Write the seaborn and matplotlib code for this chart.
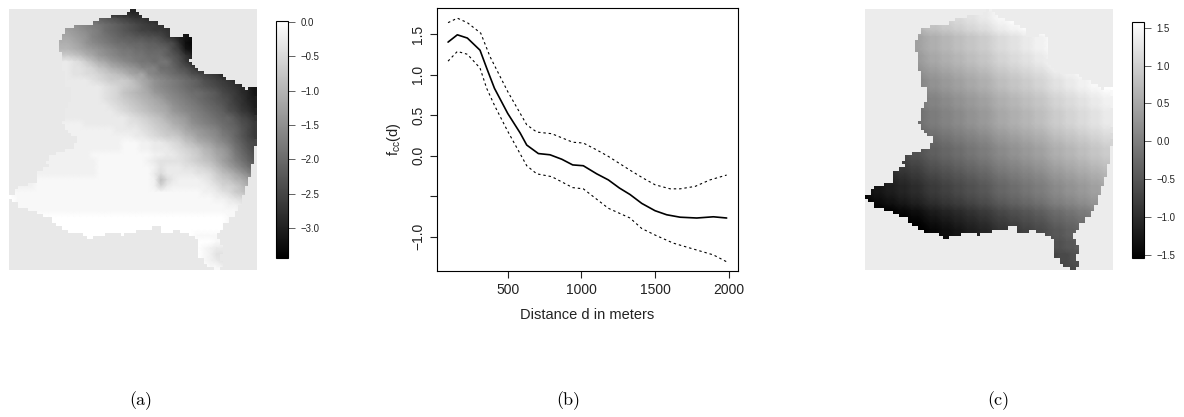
import numpy as np
import matplotlib
matplotlib.use("Agg")
import matplotlib.pyplot as plt
from matplotlib.colors import ListedColormap
import seaborn as sns

W, H = 1184, 417
LEVELS = "0123456789abcdefghijklmnopqrstuvwxyz"

# Region outline: per grid row, the [start, end) column runs inside the region
REGION_RUNS = [
 [(39,41)],[(38,42)],[(33,43)],[(29,45)],[(27,48)],[(21,50)],[(18,52)],[(18,52)],
 [(17,52),(56,58)],[(17,59)],[(16,59)],[(16,59)],[(16,59)],[(16,59)],[(17,59)],[(17,59)],
 [(17,58)],[(17,59)],[(17,60)],[(17,61)],[(18,63)],[(18,69)],[(18,70)],[(18,73)],
 [(18,75)],[(20,76),(77,80)],[(20,80)],[(20,80)],[(20,80)],[(20,80)],[(19,80)],[(19,80)],
 [(18,80)],[(18,80)],[(18,80)],[(18,80)],[(17,80)],[(18,80)],[(18,80)],[(19,80)],
 [(20,80)],[(22,80)],[(22,80)],[(21,80)],[(21,79)],[(18,79)],[(15,79)],[(13,79)],
 [(13,79)],[(12,79)],[(13,78)],[(11,78)],[(9,78)],[(9,78)],[(9,77)],[(9,77)],
 [(6,77)],[(3,76)],[(2,76)],[(2,76)],[(0,75)],[(1,75)],[(3,75)],[(3,74)],
 [(6,74)],[(9,73)],[(11,73)],[(14,71)],[(14,71)],[(15,69)],[(17,46),(49,69)],
 [(19,41),(49,53),(55,68)],[(24,31),(36,37),(58,67)],[(25,27),(60,67)],
 [(61,68)],[(61,68)],[(61,69)],[(61,69)],[(61,69)],[(61,68)],[(63,68)],[(63,69)],
 [(64,69)],[(66,68)],
]

# Panel (a) surface, gray levels
SURFACE_A = [
 "5555555555555555555555555555555555555555",
 "kkkkkkkkkkggfedcba9877665554433333333333",
 "llllllllllkjihgfedcba9887665533333333333",
 "mmmmmmmmmmlkjihfedcba9988775321111111111",
 "nnnnnnnnnnmlkihgfeddccbba864322222222222",
 "oooooooooonmkjihgffeeeddcba6211111111111",
 "pppppppppponmlkjihggffeeeda8322222222222",
 "ssssssssssrqonlkjihhggfffdca753333333333",
 "wwwwwwwwwwvusqonlkjihggfggdb865333333333",
 "wwwwwwwwwwvvutrqonmlkiiiffecb97766554433",
 "wwwwwwwwwwvvuutsrqpnmnjihgfedba987554333",
 "wwwwwwwwwwwwwvutsssrpnmkjihgfedba9876543",
 "wwwwwwwwwwwwwwwvutsrqomkjihgfedcba987653",
 "wwwwwwwwwwwwwwwvutrqponlkjihgffedca98653",
 "wwwwwwwwwwwwwwwvutsrqponmkjihgfedcba8754",
 "wwwwwwwwwwwwwwwwvutsrqponmkjihgfedca9764",
 "wwwwwwwwwwwwwwwwwvutsrqponlkjihgfedba875",
 "wwwwwwwwwwwwwwwwwwwvutsrqonmljihgfeeca97",
 "xxxxxxxxxxxxwwwwwwwvvutsrqonmkjihgfedba8",
 "xxxxxxxxxxxxxxxxxwwwwvutsrqpnmlkjigfeca8",
 "xxxxxxxxxxxxxxxxxxxxwwvutssrpomlkjhgeca8",
 "xxxxxxxxxxxxxxxxxxyyyxxwwvutrqonmkjhfdba",
 "xxxxxxxxxxxxxxxxxxyyyxxwwwvutsrpomljgeca",
 "xxxxxxxxxxxxxyyyyyyyyyyxxwwvutsqpnmkhfdb",
 "xxxxxxxxxxxxxxyyyyyyyyxwvvvvutsrqomkigec",
 "xxxxxxxxxxxxxxyyyyyyyyyxvwwwvvutsqomkige",
 "xxxxxxxxxxxxxxyyyyyyyyywuwwwwwvvusqpnljh",
 "xxxxyyyyyyyyyyyyyyyyyyyxquwxxxxwvtsrpomk",
 "xxxxyyyyyyyyyyyyyyyyyyyxtwxxxxxxwvttsqon",
 "yyyyyyyyyyyyyyyyyyyyyyyyyyyyyyyxxwvusrqo",
 "zyyyyyyyyyyyyyyyyyyyyyyyyyyyyyyyyxxwvusr",
 "zyyyyyyyyyyyyyyyyyyyyyyyyyyyyyyyyyyxxwwv",
 "zyyyyyyyyyyyyyyyyyyyyyyyyyyyyyyyyyyyyxxx",
 "zzzzzzzzzzzzzzzzzzzzzzzzzzzzzzzzzzzyyxxx",
 "zzzzzzzzzzzzzzzzzzzzzzzzzzzzzzzzzzzyyxxx",
 "zzzzzzzzzzzzzzzzzzzzzzzzzzzzzzzzzzzyyxxx",
 "zzzzzzzzzzzzzzzzzzzzzzzzzzzzzzyyyyyyyyyy",
 "zzzzzzzzzzzzzzzzzzzzzzzzzzzzzzzzzyyyzzzz",
 "zzzzzzzzzzzzzzzzzzzzzzzzzzzzzzzyxwwzzzzz",
 "zzzzzzzzzzzzzzzzzzzzzzzzzzzzzzzyxvvyzzzz",
 "zzzzzzzzzzzzzzzzzzzzzzzzzzzzzzzyxwvyzzzz",
 "zzzzzzzzzzzzzzzzzzzzzzzzzzzzzzzzyyxzzzzz",
]

# Panel (c) surface, gray levels
SURFACE_C = [
 "mnnooppqqrssttuuvvwwxyyzzzzzzzzzzzzzzzzz",
 "mnnooppqqrssttuuvvwwxyyzzzzzzzzzzzzzzzzz",
 "lmmnnooppqrrssttuuvvwxxyyzzzzzzzzzzzzzzz",
 "kllmmnnoopqqrrssttuuvwwxxyyzzzzzzzzzzzzz",
 "ijjkkllmmnooppqqrrsstuuvvwwxxyzzzzzzzzzz",
 "ijjkkllmmnooppqqrrsstuuvvwwxxyzzzzzzzzzz",
 "ijjkkllmmnooppqqrrsstuuvvwwxxyzzzzzzzzzz",
 "hiijjkkllmnnooppqqrrsttuuvvwwxyyzzzzzzzz",
 "hiijjkkllmnnooppqqrrsttuuvvwwxyyzzzzzzzz",
 "ghhiijjkklmmnnooppqqrssttuuvvwxxyyzzzzzz",
 "fgghhiijjkllmmnnooppqrrssttuuvwwxxyyzzzz",
 "effgghhiijkkllmmnnoopqqrrssttuvvwwxxyyzz",
 "effgghhiijkkllmmnnoopqqrrssttuvvwwxxyyzz",
 "deeffgghhijjkkllmmnnoppqqrrsstuuvvwwxxyy",
 "cddeeffgghiijjkkllmmnooppqqrrsttuuvvwwxx",
 "cddeeffgghiijjkkllmmnooppqqrrsttuuvvwwxx",
 "bccddeeffghhiijjkkllmnnooppqqrssttuuvvww",
 "bccddeeffghhiijjkkllmnnooppqqrssttuuvvww",
 "bccddeeffghhiijjkkllmnnooppqqrssttuuvvww",
 "abbccddeefgghhiijjkklmmnnooppqrrssttuuvv",
 "9aabbccddeffgghhiijjkllmmnnoopqqrrssttuu",
 "899aabbccdeeffgghhiijkkllmmnnoppqqrrsstt",
 "78899aabbcddeeffgghhijjkkllmmnooppqqrrss",
 "78899aabbcddeeffgghhijjkkllmmnooppqqrrss",
 "6778899aabccddeeffgghiijjkkllmnnooppqqrr",
 "566778899abbccddeeffghhiijjkklmmnnooppqq",
 "4556677889aabbccddeefgghhiijjkllmmnnoopp",
 "344556677899aabbccddeffgghhiijkkllmmnnoo",
 "23344556678899aabbccdeeffgghhijjkkllmmnn",
 "23344556678899aabbccdeeffgghhijjkkllmmnn",
 "1223344556778899aabbcddeeffgghiijjkkllmm",
 "011223344566778899aabccddeeffghhiijjkkll",
 "000001122344556677889aabbccddeffgghhiijj",
 "00000001123344556677899aabbccdeeffgghhii",
 "0000000001223344556678899aabbcddeeffgghh",
 "000000000011223344556778899aabccddeeffgg",
 "000000000011223344556778899aabccddeeffgg",
 "00000000000011223344566778899abbccddeeff",
 "00000000000011223344566778899abbccddeeff",
 "0000000000000011223344556677889aabbccdde",
 "0000000000000011223344556677889aabbccdde",
 "00000000000000001122344556677899aabbccdd",
]

A_RANGE = (-3.44, 0.015)
C_RANGE = (-1.536, 1.574)
A_TICKS = [0.0, -0.5, -1.0, -1.5, -2.0, -2.5, -3.0]
C_TICKS = [1.5, 1.0, 0.5, 0.0, -0.5, -1.0, -1.5]

# Panel (b) curves
D_MEAN = [95,158,226,312,357,410,500,584,629,708,787,867,941,1013,1104,1183,1258,1330,1410,1500,1579,1670,1783,1896,1986]
F_MEAN = [1.40,1.49,1.45,1.30,1.08,0.83,0.52,0.28,0.13,0.025,0.01,-0.045,-0.115,-0.125,-0.225,-0.30,-0.40,-0.48,-0.59,-0.68,-0.73,-0.76,-0.77,-0.755,-0.77]
D_UP = [95,158,226,317,380,500,629,697,799,941,1013,1104,1183,1330,1421,1500,1602,1670,1772,1873,1986]
F_UP = [1.64,1.695,1.64,1.51,1.22,0.79,0.38,0.29,0.27,0.165,0.155,0.07,-0.01,-0.18,-0.28,-0.36,-0.41,-0.41,-0.38,-0.30,-0.24]
D_LOW = [95,158,226,312,357,414,500,629,697,799,941,1013,1183,1330,1410,1500,1624,1783,1896,1986]
F_LOW = [1.165,1.285,1.25,1.08,0.83,0.605,0.30,-0.125,-0.225,-0.26,-0.395,-0.41,-0.65,-0.77,-0.90,-0.98,-1.08,-1.165,-1.225,-1.31]

X_TICKS = [500, 1000, 1500, 2000]
Y_TICKS = [-1.0, -0.5, 0.0, 0.5, 1.0, 1.5]
Y_LABELS = ["\u22121.0", "", "0.0", "0.5", "1.0", "1.5"]
CAPTIONS = ["(a)", "(b)", "(c)"]

sns.set_theme(style="white")
plt.rcParams["font.family"] = ["Liberation Sans", "DejaVu Sans"]
plt.rcParams["axes.unicode_minus"] = True


def box(l, t, r, b):
    return [l / W, 1 - b / H, (r - l) / W, (b - t) / H]


def decode(rows, rng):
    lv = np.array([[LEVELS.index(c) for c in r] for r in rows], float)
    return rng[0] + (rng[1] - rng[0]) * lv / 35.0


inside = np.zeros((84, 80), bool)
for i, runs in enumerate(REGION_RUNS):
    for s, e in runs:
        inside[i, s:e] = True

fig = plt.figure(figsize=(W / 100, H / 100), dpi=100, facecolor="white")


def surface(rows, rng, ticks, axbox, cbbox, bg):
    ax = fig.add_axes(box(*axbox))
    cax = fig.add_axes(box(*cbbox))
    ax.set_facecolor(bg)
    values = decode(rows, rng)
    # base layer and colorbar from seaborn, on the region's grid
    sns.heatmap(np.kron(values, np.ones((2, 2))), mask=~inside, cmap="gray", vmin=rng[0], vmax=rng[1],
                ax=ax, cbar_ax=cax, xticklabels=False, yticklabels=False)
    # the renderer shades smoothly between the read values
    ax.pcolormesh(np.arange(40) * 2 + 1.0, np.arange(42) * 2 + 1.0, values, shading="gouraud",
                  cmap="gray", vmin=rng[0], vmax=rng[1])
    # everything outside the region in the panel's background colour
    sns.heatmap(np.zeros((84, 80)), mask=inside, cmap=ListedColormap([bg]), cbar=False,
                ax=ax, xticklabels=False, yticklabels=False)
    cax.set_yticks(ticks)
    cax.set_yticklabels([f"{t:.1f}".replace("-", "\u2212") for t in ticks], fontsize=6.9, color="#222222")
    cax.tick_params(axis="y", length=5, width=0.5, pad=4, right=True, color="#222222")
    outline = ax.collections[0].colorbar.outline
    outline.set_visible(True)
    outline.set_linewidth(0.8)
    outline.set_edgecolor("black")


surface(SURFACE_A, A_RANGE, A_TICKS, (9, 9, 257, 270), (276, 21, 288, 258), "#E8E8E8")
surface(SURFACE_C, C_RANGE, C_TICKS, (865, 9, 1113, 270), (1132, 22, 1144, 258), "#ECECEC")

ax = fig.add_axes(box(437.3, 8.3, 737.7, 270.7))
sns.lineplot(x=D_MEAN, y=F_MEAN, ax=ax, color="black", lw=1.2)
sns.lineplot(x=D_UP, y=F_UP, ax=ax, color="black", lw=0.8, linestyle=(0, (2.2, 2.6)))
sns.lineplot(x=D_LOW, y=F_LOW, ax=ax, color="black", lw=0.8, linestyle=(0, (2.2, 2.6)))
ax.set_xlim(22, 2061)
ax.set_ylim(-1.42, 1.817)
ax.set_xticks(X_TICKS)
ax.set_yticks(Y_TICKS)
ax.set_yticklabels(Y_LABELS, rotation=90, va="center")
ax.tick_params(axis="both", which="major", labelsize=10, length=5, width=0.8, color="#222222",
               labelcolor="#222222", pad=3.5, bottom=True, left=True)
ax.tick_params(axis="x", pad=4)
for s in ax.spines.values():
    s.set_visible(True)
    s.set_linewidth(0.8)
    s.set_edgecolor("black")
ax.set_xlabel("Distance d in meters", fontsize=10.5, color="#222222", labelpad=7.5)
ax.set_ylabel(r"$\mathregular{f_{cc}(d)}$", fontsize=10.5, color="#222222", labelpad=6)

for txt, x in zip(CAPTIONS, [141, 568, 998]):
    fig.text(x / W, 1 - 401 / H, txt, ha="center", va="center", family="cmr10", fontsize=13, color="black")

fig.savefig("out.png", dpi=100)
